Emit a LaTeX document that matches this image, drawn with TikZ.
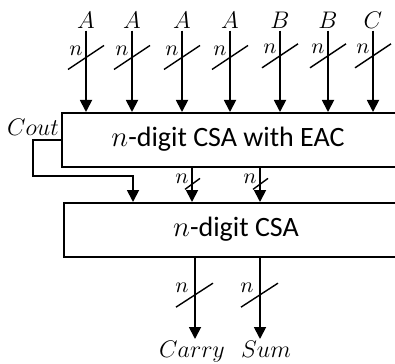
\documentclass[tikz,border=0pt]{standalone}
\usepackage{fontspec}
\setmainfont{Carlito}
\usetikzlibrary{positioning, calc, arrows.meta}
\tikzset{
    csabox/.style={draw, line width=0.9pt, anchor=north west, inner sep=0pt, minimum width=180pt, minimum height=27pt},
    csatext/.style={font=\fontsize{14}{16}\selectfont},
    varlbl/.style={font=\fontsize{13}{15}\selectfont, inner sep=1pt},
    nlbl/.style={font=\fontsize{11}{12}\selectfont, inner sep=0pt},
    buswire/.style={-{Triangle[length=6pt, width=6pt]}, line width=0.9pt},
    busmark/.style={line width=0.7pt}
}

\begin{document}
\begin{tikzpicture}[x=0.5pt, y=-0.5pt]

    \useasboundingbox (0,0) rectangle (395,363);
    \clip (0,0) rectangle (395,363);

    % Bloques CSA
    \node[csabox] (csa1) at (61,112) {};
    \node[csatext] (csa1txt) at (228,139) {$n$-digit CSA with EAC};
    \node[csabox] (csa2) at (63,202) {};
    \node[csatext] (csa2txt) at (236,229) {$n$-digit CSA};

    % Entradas
    \node[varlbl] (a1) at (86,20) {$A$};
    \node[varlbl] (a2) at (132,20) {$A$};
    \node[varlbl] (a3) at (182,20) {$A$};
    \node[varlbl] (a4) at (230,20) {$A$};
    \node[varlbl] (b1) at (280,20) {$B$};
    \node[varlbl] (b2) at (328,20) {$B$};
    \node[varlbl] (c1) at (373,20) {$C$};

    \draw[buswire] (a1.south) -- coordinate[pos=0.33] (s1) (a1.south |- csa1.north);
    \draw[buswire] (a2.south) -- coordinate[pos=0.33] (s2) (a2.south |- csa1.north);
    \draw[buswire] (a3.south) -- coordinate[pos=0.33] (s3) (a3.south |- csa1.north);
    \draw[buswire] (a4.south) -- coordinate[pos=0.33] (s4) (a4.south |- csa1.north);
    \draw[buswire] (b1.south) -- coordinate[pos=0.31] (s5) (b1.south |- csa1.north);
    \draw[buswire] (b2.south) -- coordinate[pos=0.31] (s6) (b2.south |- csa1.north);
    \draw[buswire] (c1.south) -- coordinate[pos=0.31] (s7) (c1.south |- csa1.north);

    % Marcas de bus (n bits)
    \foreach \s in {s1,s2,s3,s4,s5,s6,s7}{
        \draw[busmark] ($(\s)+(-18,12)$) -- ($(\s)+(18,-12)$);
        \node[nlbl] at ($(\s)+(-10,-7)$) {$n$};
    }

    % Cout hacia el segundo CSA
    \node[varlbl] (cout) at (33,127) {$Cout$};
    \coordinate (coutpin) at (61,140);
    \coordinate (cin) at (133,202);
    \draw[buswire] (coutpin) -- ++(-28,0) -- ++(0,36) -| (cin);

    % Salidas del primer CSA
    \coordinate (m1) at (192,0);
    \coordinate (m2) at (260,0);
    \draw[buswire] (csa1.south -| m1) -- coordinate[pos=0.47] (t1) (csa2.north -| m1);
    \draw[buswire] (csa1.south -| m2) -- coordinate[pos=0.47] (t2) (csa2.north -| m2);
    \foreach \t in {t1,t2}{
        \draw[busmark] ($(\t)+(-7,5.5)$) -- ($(\t)+(8,-5.5)$);
        \node[nlbl] at ($(\t)+(-10,-5)$) {$n$};
    }

    % Salidas finales
    \coordinate (o1) at (195,0);
    \coordinate (o2) at (260,0);
    \node[varlbl, anchor=north] (carry) at (192,339) {$Carry$};
    \node[varlbl, anchor=north] (sum) at (266,339) {$Sum$};
    \draw[buswire] (csa2.south -| o1) -- coordinate[pos=0.46] (u1) (carry.north -| o1);
    \draw[buswire] (csa2.south -| o2) -- coordinate[pos=0.46] (u2) (sum.north -| o2);
    \foreach \u in {u1,u2}{
        \draw[busmark] ($(\u)+(-19,12)$) -- ($(\u)+(18,-12)$);
        \node[nlbl] at ($(\u)+(-13,-7)$) {$n$};
    }

\end{tikzpicture}
\end{document}
